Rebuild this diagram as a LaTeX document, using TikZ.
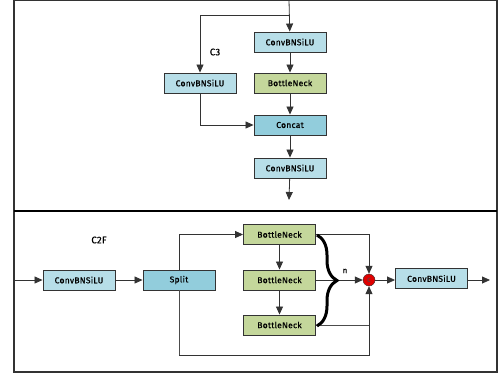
\documentclass[tikz,border=0pt]{standalone}
\usepackage{fontspec}
\setmainfont{Fira Sans}[LetterSpace=3]
\newfontfamily\blkfont{Fira Sans}[LetterSpace=3,FakeBold=0.6]
\usetikzlibrary{arrows.meta,decorations.pathreplacing}
\definecolor{convblue}{HTML}{B7DEE8}
\definecolor{catblue}{HTML}{92CDDC}
\definecolor{bngreen}{HTML}{C4D79B}
\definecolor{dotred}{HTML}{E00000}
\tikzset{
  blk/.style={draw=black!80,line width=0.9pt,minimum width=72pt,minimum height=20pt,inner sep=0pt,font=\blkfont\fontsize{8.5}{9}\selectfont},
  conv/.style={blk,fill=convblue},
  bneck/.style={blk,fill=bngreen},
  cat/.style={blk,fill=catblue},
  catdot/.style={draw=black!80,circle,fill=dotred,minimum size=12pt,inner sep=0pt,text=black!70,font=\fontsize{8}{8}\selectfont},
  lbl/.style={font=\blkfont\fontsize{9.5}{10}\selectfont},
  arr/.style={-{Triangle[length=8pt,width=7pt]},line width=0.8pt,black!80},
  ln/.style={line width=0.8pt,black!70}
}
\begin{document}
\begin{tikzpicture}[x=1pt,y=-1pt]
\useasboundingbox (0,0) rectangle (500,378);
\draw[line width=1.3pt,black!80] (14,0) rectangle (497,372);
\draw[line width=1.1pt] (14,211) -- (497,211);
\coordinate (c3top) at (289,0);
\coordinate (c3fork) at (289,15);
\coordinate (c3end) at (289,200);
\draw (290,42) node[conv](c3in) {ConvBNSiLU};
\draw (200,83) node[conv](c3side) {ConvBNSiLU};
\draw (290,83) node[bneck](c3bn) {BottleNeck};
\draw (290,125) node[cat](c3cat) {Concat};
\draw (290,168) node[conv](c3out) {ConvBNSiLU};
\draw (215,52) node[lbl](c3lbl) {C3};
\draw[arr] (c3top) -- (c3in);
\draw[arr] (c3fork) -| (c3side);
\draw[arr] (c3in) -- (c3bn);
\draw[arr] (c3bn) -- (c3cat);
\draw[arr] (c3side) |- (c3cat);
\draw[arr] (c3cat) -- (c3out);
\draw[arr] (c3out) -- (c3end);
\coordinate (c2in) at (14,280);
\coordinate (c2end) at (490,280);
\coordinate (c2loop) at (179,355);
\draw (99,240) node[lbl](c2lbl) {C2F};
\draw (79,280) node[conv](c2conv) {ConvBNSiLU};
\draw (179,280) node[cat](c2split) {Split};
\draw (279.5,234.5) node[bneck](bn1) {BottleNeck};
\draw (279.5,280) node[bneck](bn2) {BottleNeck};
\draw (279.5,325) node[bneck](bn3) {BottleNeck};
\draw (369,280) node[catdot](c2c) {c};
\draw (431.5,278.5) node[conv](c2out) {ConvBNSiLU};
\draw[arr] (c2in) -- (c2conv);
\draw[arr] (c2conv) -- (c2split);
\draw[arr] (c2split) |- (bn1);
\draw[ln] (c2split) -- (c2loop);
\draw[arr] (c2loop) -| (c2c);
\draw[arr] (bn1) -- (bn2);
\draw[arr] (bn2) -- (bn3);
\draw[arr] (bn1) -| (c2c);
\draw[ln] (bn3.east) -- (bn3.east -| c2c);
\draw[arr] (bn2) -- (c2c);
\draw[decorate,decoration={brace,amplitude=20pt},line width=3pt] (317,235) -- (317,326);
\draw (345,271) node[font=\blkfont\fontsize{8}{8}\selectfont](nlbl) {n};
\draw[arr] (c2c) -- (c2c -| c2out.west);
\draw[arr] (c2c -| c2out.east) -- (c2end);
\end{tikzpicture}
\end{document}
